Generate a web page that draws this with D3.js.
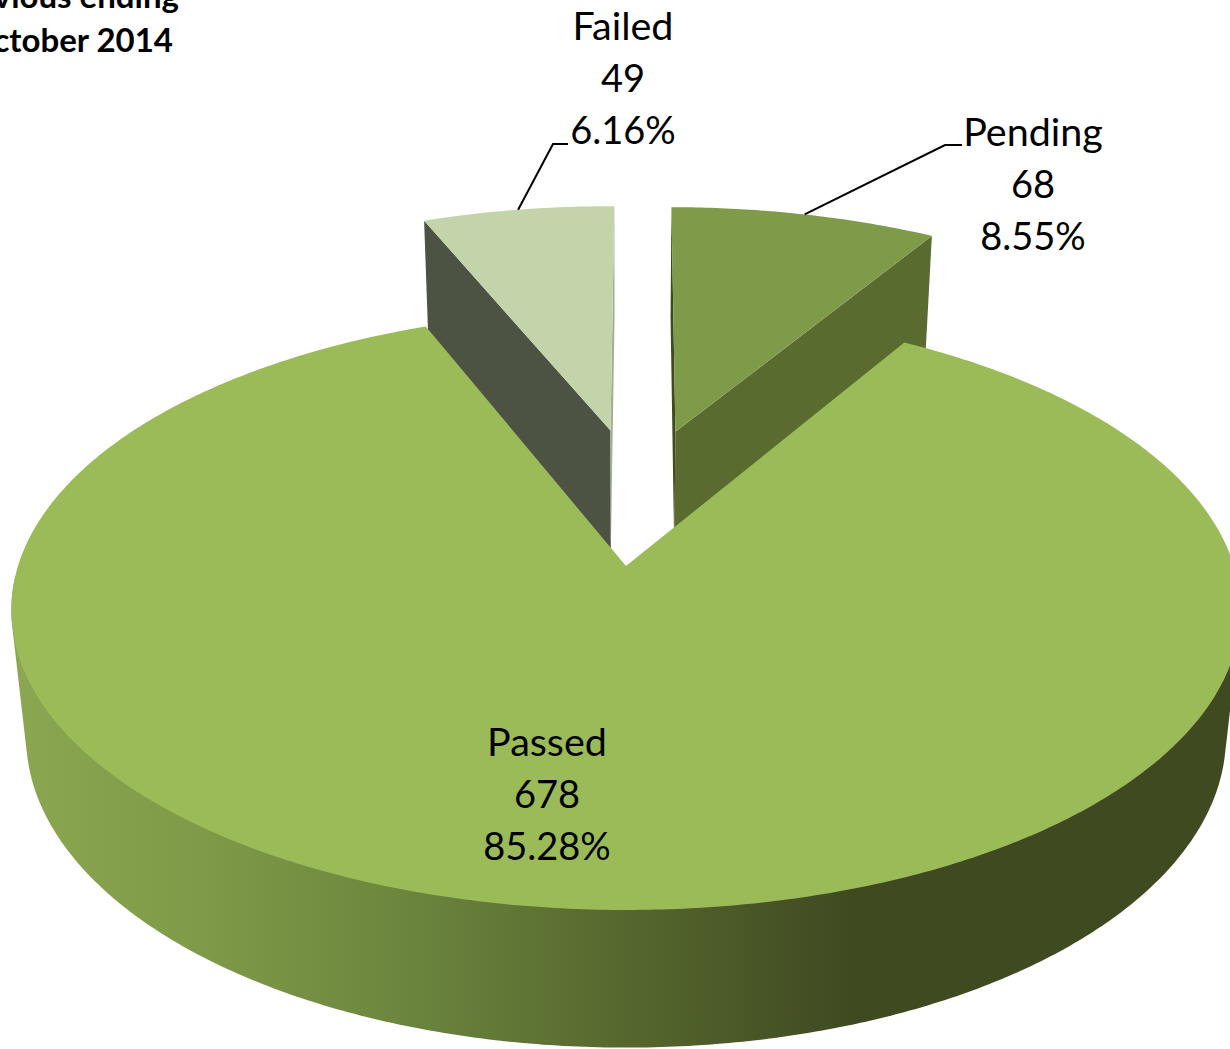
<!DOCTYPE html>
<meta charset="utf-8">
<title>Passed / Pending / Failed</title>
<style>

html, body {
  margin: 0;
  background: #fff;
  overflow: hidden;
}

text {
  font-family: Lato, "Open Sans", sans-serif;
  fill: #000;
}

.label {
  font-size: 38px;
  text-anchor: middle;
}

.label .name {
  font-size: 39.5px;
}

.title {
  font-size: 33px;
  font-weight: bold;
  text-anchor: end;
}

.leader {
  fill: none;
  stroke: #000;
  stroke-width: 2px;
}

</style>
<svg width="1230" height="1049"></svg>
<script src="https://d3js.org/d3.v7.min.js"></script>
<script>

var categories = ["Pending", "Passed", "Failed"];
var counts = [68, 678, 49];
var titleLines = ["Previous ending", "October 2014"];

var topColors = ["#7f9a48", "#9bbb59", "#c3d3aa"];
var endWallColors = ["#5a6b30", null, "#a3b190"];
var startWallColors = ["#3f4a21", null, "#4d5343"];

// wall shading across the big slice, dark end on the right
var wallStops = [
  [12, "#8ba751"],
  [200, "#7f9a48"],
  [400, "#6c863e"],
  [600, "#586b30"],
  [850, "#3f4a21"],
  [1230, "#3f4a21"]
];

// projection of the tilted pie, fitted by eye
var apexX = 626, apexY = 566,   // point of the big slice on screen
    rx = 608, ry = 293.5,
    tilt = 0.1467,              // perspective along the plate
    depth = 129, shrink = 0.024,
    explode = 0.25,
    firstAngle = 0.004;

var svg = d3.select("svg");
var total = d3.sum(counts);

var slices = d3.pie().sort(null)
    .startAngle(firstAngle)
    .endAngle(firstAngle + 2 * Math.PI)(counts);
slices.forEach(function (d) {
  d.name = categories[d.index];
  d.mid = (d.startAngle + d.endAngle) / 2;
});

// pie centre on the plate, so that the exploded big slice has its point at the plate origin
var big = slices[1];
var centreU = -explode * Math.sin(big.mid),
    centreV = -explode * Math.cos(big.mid);

function project(u, v, z) {
  var w = 1 + tilt * v + shrink * z;
  return [apexX + rx * u / w, apexY + (-ry * v + depth * z) / w];
}

function sliceApex(d) {
  return [centreU + explode * Math.sin(d.mid), centreV + explode * Math.cos(d.mid)];
}

function rimPoint(d, a, z) {
  var o = sliceApex(d);
  return project(o[0] + Math.sin(a), o[1] + Math.cos(a), z);
}

function apexPoint(d, z) {
  var o = sliceApex(d);
  return project(o[0], o[1], z);
}

function arcAngles(a0, a1) {
  var n = Math.ceil(Math.abs(a1 - a0) / 0.01);
  return d3.range(n + 1).map(function (i) { return a0 + (a1 - a0) * i / n; });
}

var line = d3.line();
function closed(points) { return line(points) + "Z"; }

function topPath(d) {
  var rim = arcAngles(d.startAngle, d.endAngle).map(function (a) { return rimPoint(d, a, 0); });
  return closed([apexPoint(d, 0)].concat(rim));
}

function wallPath(d, a) {
  return closed([apexPoint(d, 0), rimPoint(d, a, 0), rimPoint(d, a, 1), apexPoint(d, 1)]);
}

var gradient = svg.append("defs").append("linearGradient")
    .attr("id", "wall")
    .attr("gradientUnits", "userSpaceOnUse")
    .attr("x1", 0).attr("x2", 1230)
    .attr("y1", 0).attr("y2", 0);

gradient.selectAll("stop")
    .data(wallStops)
  .enter().append("stop")
    .attr("offset", function (d) { return d[0] / 1230; })
    .attr("stop-color", function (d) { return d[1]; });

// small slices first, the big one sits in front of them
slices.filter(function (d) { return d !== big; }).forEach(function (d) {
  svg.append("path").attr("d", wallPath(d, d.startAngle)).attr("fill", startWallColors[d.index]);
  svg.append("path").attr("d", wallPath(d, d.endAngle)).attr("fill", endWallColors[d.index]);
  svg.append("path").attr("d", topPath(d)).attr("fill", topColors[d.index]);
});

// outer wall of the big slice: hull of the front part of both rims
var frontAngles = arcAngles(92 * Math.PI / 180, 268 * Math.PI / 180);
var wallPoints = [];
frontAngles.forEach(function (a) {
  wallPoints.push(rimPoint(big, a, 0));
  wallPoints.push(rimPoint(big, a, 1));
});
svg.append("path")
    .attr("d", closed(d3.polygonHull(wallPoints)))
    .attr("fill", "url(#wall)");

svg.append("path").attr("d", topPath(big)).attr("fill", topColors[big.index]);

// labels
var labelX = [1033, 547, 623];
var labelY = [146, 756, 40];
var lineGap = 52;

var label = svg.selectAll(".label")
    .data(slices)
  .enter().append("text")
    .attr("class", "label")
    .attr("transform", function (d) { return "translate(" + labelX[d.index] + "," + labelY[d.index] + ")"; });

label.selectAll("tspan")
    .data(function (d) {
      return [d.name, d.value, (d.value / total * 100).toFixed(2) + "%"];
    })
  .enter().append("tspan")
    .attr("class", function (d, i) { return i === 0 ? "name" : null; })
    .attr("x", 0)
    .attr("y", function (d, i) { return i * lineGap; })
    .text(function (d) { return d; });

// leader lines run from the middle of the rim up to the label
var elbows = { "Pending": [[945, 145], [962, 145]], "Failed": [[553, 144], [568, 144]] };
slices.filter(function (d) { return elbows[d.name]; }).forEach(function (d) {
  svg.append("path")
      .attr("class", "leader")
      .attr("d", line([rimPoint(d, d.mid, 0)].concat(elbows[d.name])));
});

var titleRight = [179, 173];
svg.selectAll(".title")
    .data(titleLines)
  .enter().append("text")
    .attr("class", "title")
    .attr("x", function (d, i) { return titleRight[i]; })
    .attr("y", function (d, i) { return 8 + i * 44; })
    .text(function (d) { return d; });

</script>
